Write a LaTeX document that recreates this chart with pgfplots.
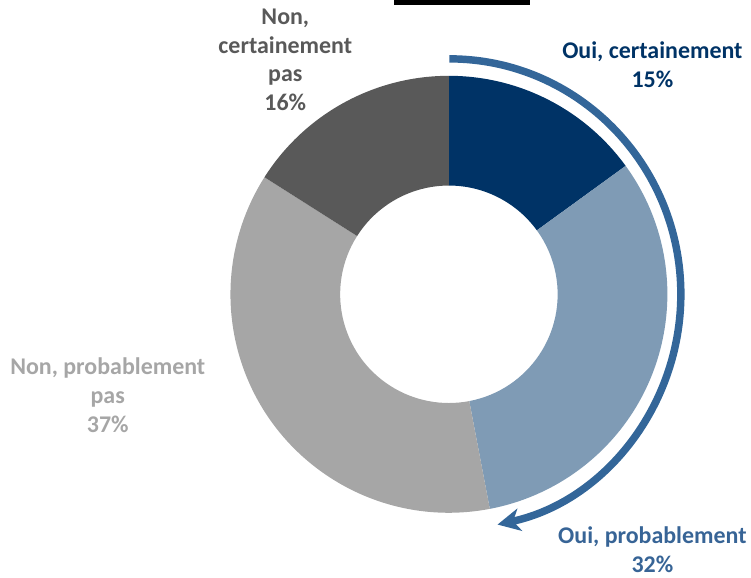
\documentclass[border=0pt]{standalone}
\usepackage{pgfplots}
\usepackage{pgfplotstable}
\pgfplotsset{compat=1.18}
\usetikzlibrary{arrows.meta}
\usepackage{fontspec}
\setmainfont{Carlito}
\definecolor{cOC}{RGB}{0,51,102}
\definecolor{cOP}{RGB}{127,155,181}
\definecolor{cNP}{RGB}{166,166,166}
\definecolor{cNC}{RGB}{89,89,89}
\definecolor{tOP}{RGB}{55,100,150}
\definecolor{arr}{RGB}{51,102,153}
\pgfplotstableread{
label pct
OuiCert 15
OuiProb 32
NonProb 37
NonCert 16
}\donutdata
\begin{document}
\begin{tikzpicture}
\pgfplotstablegetelem{0}{pct}\of\donutdata \let\pA\pgfplotsretval
\pgfplotstablegetelem{1}{pct}\of\donutdata \let\pB\pgfplotsretval
\pgfplotstablegetelem{2}{pct}\of\donutdata \let\pC\pgfplotsretval
\pgfplotstablegetelem{3}{pct}\of\donutdata \let\pD\pgfplotsretval
\pgfmathsetmacro\aA{90}
\pgfmathsetmacro\aB{\aA-3.6*\pA}
\pgfmathsetmacro\aC{\aB-3.6*\pB}
\pgfmathsetmacro\aD{\aC-3.6*\pC}
\pgfmathsetmacro\aE{\aD-3.6*\pD}
\def\Ro{164.25pt}
\def\Ri{81.75pt}
\def\Rd{82.5pt}
\begin{axis}[hide axis, scale only axis, width=563.25pt, height=432pt,
  xmin=0, xmax=751, ymin=0, ymax=576, clip=false]
\path (axis cs:0,0) (axis cs:751,576);
% black box at top
\fill[black] (axis cs:395,571) rectangle (axis cs:531,576);
% donut
\fill[cOC] (axis cs:450,281) ++(\aA:\Ro) arc[start angle=\aA, end angle=\aB, radius=\Ro] -- ++(\aB:-\Rd) arc[start angle=\aB, end angle=\aA, radius=\Ri] -- cycle;
\fill[cOP] (axis cs:450,281) ++(\aB:\Ro) arc[start angle=\aB, end angle=\aC, radius=\Ro] -- ++(\aC:-\Rd) arc[start angle=\aC, end angle=\aB, radius=\Ri] -- cycle;
\fill[cNP] (axis cs:450,281) ++(\aC:\Ro) arc[start angle=\aC, end angle=\aD, radius=\Ro] -- ++(\aD:-\Rd) arc[start angle=\aD, end angle=\aC, radius=\Ri] -- cycle;
\fill[cNC] (axis cs:450,281) ++(\aD:\Ro) arc[start angle=\aD, end angle=\aE, radius=\Ro] -- ++(\aE:-\Rd) arc[start angle=\aE, end angle=\aD, radius=\Ri] -- cycle;
% arrow
\draw[arr, line width=5.6pt, -{Stealth[length=17pt, width=17pt, inset=5pt]}]
  (axis cs:450.5,281) ++(0pt,177pt) arc[start angle=90, end angle=-78, x radius=174pt, y radius=177pt];
% labels
\node[align=center, font=\fontsize{18}{21.75}\selectfont\bfseries, text=cOC] at (axis cs:654,511) {Oui, certainement\\15\%};
\node[align=center, font=\fontsize{18}{21.75}\selectfont\bfseries, text=tOP] at (axis cs:654,25) {Oui, probablement\\32\%};
\node[align=center, font=\fontsize{18}{21.75}\selectfont\bfseries, text=cNP] at (axis cs:108,180) {Non, probablement\\pas\\37\%};
\node[align=center, font=\fontsize{18}{21.75}\selectfont\bfseries, text=cNC] at (axis cs:286,516) {Non,\\certainement\\pas\\16\%};
\end{axis}
\end{tikzpicture}
\end{document}
